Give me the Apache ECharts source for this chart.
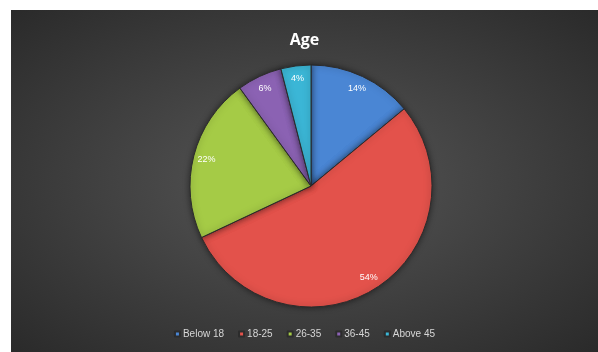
<!DOCTYPE html>
<html>
<head>
<meta charset="utf-8">
<script src="https://cdn.jsdelivr.net/npm/echarts@6/dist/echarts.min.js"></script>
<style>
  html, body { margin: 0; padding: 0; background: #fff; }
  .canvas {
    position: absolute;
    left: 11px;
    top: 10px;
    width: 587px;
    height: 342px;
    background: radial-gradient(ellipse at 50% 50%, #575757 0%, #454545 40%, #2a2a2a 100%);
  }
</style>
</head>
<body>
<div class="canvas"></div>
<script>
// chart data
const categories = ["Below 18", "18-25", "26-35", "36-45", "Above 45"];
const shares = [14, 54, 22, 6, 4];
const colors = ["#4a86d4", "#e3524b", "#a5cb46", "#8b62b3", "#3bb6d6"];

let chart = echarts.init(document.querySelector(".canvas"));
let option = {
  animation: false,
  color: colors,
  title: {
    text: "Age",
    left: "center",
    top: 17,
    textStyle: {
      color: "#ffffff",
      fontFamily: "Open Sans",
      fontWeight: "bold",
      fontSize: 16,
    },
  },
  legend: {
    data: categories,
    bottom: 8,
    left: "center",
    itemWidth: 5,
    itemHeight: 5,
    itemGap: 14,
    icon: "rect",
    textStyle: {
      color: "#d6d6d6",
      fontFamily: "Liberation Sans",
      fontSize: 10,
      padding: [0, 0, 0, -2],
    },
  },
  series: [
    {
      name: "Age",
      type: "pie",
      center: [300, 176],
      radius: [0, 121],
      startAngle: 90,
      clockwise: true,
      label: { show: false },
      labelLine: { show: false },
      itemStyle: {
        borderColor: "#2c2c2c",
        borderWidth: 1,
        shadowBlur: 6,
        shadowColor: "rgba(0,0,0,0.5)",
      },
      data: categories.map((name, i) => ({ name: name, value: shares[i] })),
    },
    {
      // label ring only
      name: "labels",
      type: "pie",
      silent: true,
      legendHoverLink: false,
      center: [300, 176],
      radius: [89, 121],
      startAngle: 90,
      clockwise: true,
      itemStyle: { color: "transparent" },
      label: {
        show: true,
        position: "inside",
        formatter: "{c}%",
        color: "#ffffff",
        fontFamily: "Liberation Sans",
        fontSize: 9,
      },
      labelLine: { show: false },
      data: categories.map((name, i) => ({ name: name + " ", value: shares[i] })),
    },
  ],
};
chart.setOption(option);
</script>
</body>
</html>
